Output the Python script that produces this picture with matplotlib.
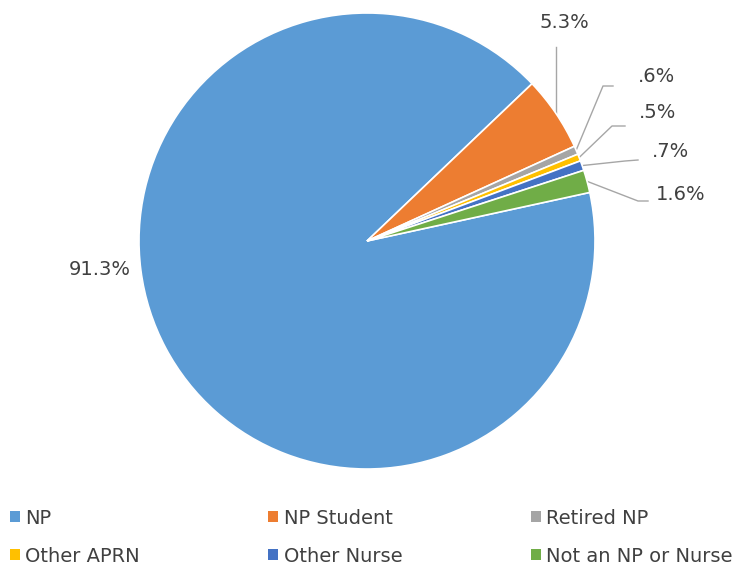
import numpy as np
import matplotlib
matplotlib.use("Agg")
import matplotlib.pyplot as plt
from matplotlib.patches import Patch

categories = ["NP", "NP Student", "Retired NP", "Other APRN", "Other Nurse", "Not an NP or Nurse"]
shares = [91.3, 5.3, 0.6, 0.5, 0.7, 1.6]
labels = ["91.3%", "5.3%", ".6%", ".5%", ".7%", "1.6%"]
colors = ["#5B9BD5", "#ED7D31", "#A5A5A5", "#FFC000", "#4472C4", "#70AD47"]

plt.rcParams["font.family"] = ["DejaVu Sans"]
TEXT = "#404040"
LINE = "#A6A6A6"

W, H = 756, 569
fig = plt.figure(figsize=(W / 100, H / 100), dpi=100)
cx, cy, r = 367, 241, 228
ax = fig.add_axes([(cx - r) / W, (H - cy - r) / H, 2 * r / W, 2 * r / H])

wedges, _ = ax.pie(shares, colors=colors, startangle=12.3, counterclock=False,
                   radius=1, wedgeprops=dict(edgecolor="white", linewidth=1.2))
ax.set_xlim(-1, 1)
ax.set_ylim(-1, 1)
ax.set_aspect("equal")
ax.axis("off")


def px(x, y):
    # pixel position -> data coords of the pie axes
    return (x - cx) / r, (cy - y) / r


# label text centers and leader-line bend points (pixels)
text_pos = [(100, 270), (564, 22), (656, 77), (658, 113), (670, 152), (681, 195)]
bends = [None, [(555, 47)], [(603, 86), (613, 86)], [(612, 126), (625, 126)],
         [(625, 161), (638, 160)], [(638, 201), (648, 201)]]

for w, lab, tp, bd in zip(wedges, labels, text_pos, bends):
    tx, ty = px(*tp)
    ax.text(tx, ty, lab, ha="center", va="center", fontsize=14, color=TEXT,
            clip_on=False)
    if bd is None:
        continue
    ang = np.deg2rad((w.theta1 + w.theta2) / 2)
    xs = [np.cos(ang)] + [px(*b)[0] for b in bd]
    ys = [np.sin(ang)] + [px(*b)[1] for b in bd]
    if len(bd) == 1:
        xs[1] = xs[0]
    ax.plot(xs, ys, color=LINE, lw=1, clip_on=False, zorder=0)

# legend: reorder so rows read left-to-right
order = [0, 3, 1, 4, 2, 5]
handles = [Patch(facecolor=colors[i], edgecolor="none") for i in order]
fig.legend(handles, [categories[i] for i in order], ncol=3,
           loc="upper left", bbox_to_anchor=(2 / W, 1 - 501 / H),
           frameon=False, fontsize=14, labelcolor=TEXT,
           handlelength=0.5, handleheight=0.5, handletextpad=0.3,
           columnspacing=6.6, labelspacing=0.97, borderaxespad=0)

fig.savefig("out.png", dpi=100)
